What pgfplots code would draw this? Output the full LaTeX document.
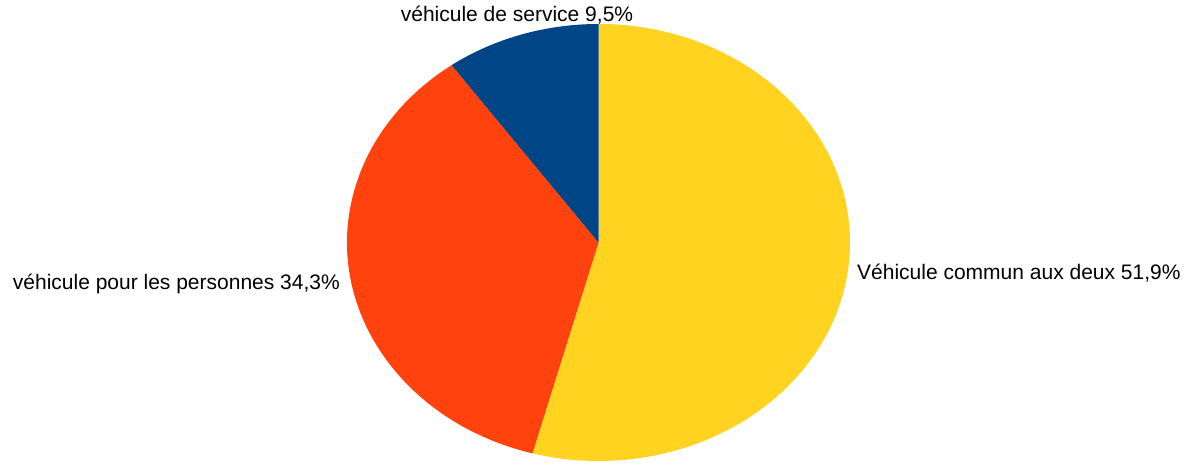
\documentclass[border=0pt]{standalone}
\usepackage{pgfplots}
\usepackage{pgfplotstable}
\pgfplotsset{compat=1.18}
\usepackage{fontspec}
\setmainfont{Liberation Sans}
\definecolor{cyellow}{HTML}{FFD320}
\definecolor{corange}{HTML}{FF420E}
\definecolor{cblue}{HTML}{004586}
\pgfplotstableread{
value
51.9
34.3
9.5
}\piedata
\begin{document}
\begin{tikzpicture}
\pgfplotstablegetelem{0}{value}\of\piedata \edef\va{\pgfplotsretval}
\pgfplotstablegetelem{1}{value}\of\piedata \edef\vb{\pgfplotsretval}
\pgfplotstablegetelem{2}{value}\of\piedata \edef\vc{\pgfplotsretval}
\pgfmathsetmacro{\tot}{\va+\vb+\vc}
\pgfmathsetmacro{\aA}{90}
\pgfmathsetmacro{\aB}{90-\va/\tot*360}
\pgfmathsetmacro{\aC}{\aB-\vb/\tot*360}
\pgfmathsetmacro{\aD}{\aC-\vc/\tot*360}
\begin{axis}[
  x=1pt, y=1pt,
  xmin=0, xmax=1191, ymin=0, ymax=466,
  hide axis, clip=false,
  scale only axis,
]
\path (axis cs:0,0) rectangle (axis cs:1191,466);
\fill[cyellow] (axis cs:598.5,223.5) -- ++(\aA:251.5pt and 218.5pt) arc[start angle=\aA, end angle=\aB, x radius=251.5pt, y radius=218.5pt] -- cycle;
\fill[corange] (axis cs:598.5,223.5) -- ++(\aB:251.5pt and 218.5pt) arc[start angle=\aB, end angle=\aC, x radius=251.5pt, y radius=218.5pt] -- cycle;
\fill[cblue] (axis cs:598.5,223.5) -- ++(\aC:251.5pt and 218.5pt) arc[start angle=\aC, end angle=\aD, x radius=251.5pt, y radius=218.5pt] -- cycle;
\node[anchor=base, inner sep=0pt, font=\fontsize{21}{25}\selectfont] at (axis cs:517,444) {véhicule de service 9,5\%};
\node[anchor=base east, inner sep=0pt, font=\fontsize{21}{25}\selectfont] at (axis cs:340,177) {véhicule pour les personnes 34,3\%};
\node[anchor=base west, inner sep=0pt, font=\fontsize{21}{25}\selectfont] at (axis cs:857,187) {Véhicule commun aux deux 51,9\%};
\end{axis}
\end{tikzpicture}
\end{document}
